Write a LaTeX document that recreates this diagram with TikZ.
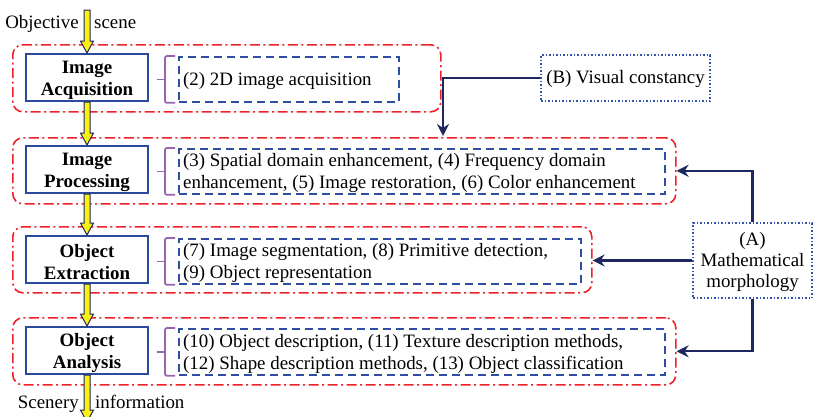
\documentclass[tikz,border=0pt]{standalone}
\usepackage{fontspec}
\setmainfont{Liberation Serif}
\usetikzlibrary{arrows.meta,calc}
\definecolor{rdash}{RGB}{238,32,40}
\definecolor{bbox}{RGB}{44,74,156}
\definecolor{bdash}{RGB}{46,78,162}
\definecolor{bdot}{RGB}{52,82,176}
\definecolor{navy}{RGB}{30,40,94}
\definecolor{purp}{RGB}{154,101,176}
\definecolor{yel}{RGB}{250,240,20}
\newcommand\yarr[2]{\draw[yarrowst] ($(#1)+(-3,0)$) -- ($(#2)+(-3,-12)$) -- ($(#2)+(-6.5,-12)$) -- (#2) -- ($(#2)+(6.5,-12)$) -- ($(#2)+(3,-12)$) -- ($(#1)+(3,0)$) -- cycle;}
\newcommand\brk[1]{\draw[bracest] ($(#1.north west)+(-3,0)$) -- ($(#1.north west)+(-13,0)$) -- ($(#1.south west)+(-13,0)$) -- ($(#1.south west)+(-3,0)$);
 \draw[bracest] ($(#1.west)+(-13,0)$) -- ($(#1.west)+(-21,0)$);}
\begin{document}
\begin{tikzpicture}[x=1pt,y=-1pt,
  every node/.style={font=\fontsize{18.9pt}{22pt}\selectfont},
  redbox/.style={draw=rdash, line width=1.6pt, rounded corners=10pt, dash pattern=on 10pt off 3.5pt on 2pt off 3.5pt, anchor=north west, inner sep=0pt},
  stagebox/.style={draw=bbox, line width=2pt, minimum width=122pt, minimum height=47pt, inner sep=0pt},
  stagetext/.style={align=center, inner sep=0pt, font=\fontsize{18.9pt}{22pt}\selectfont\bfseries},
  detbox/.style={draw=bdash, line width=1.8pt, dash pattern=on 8pt off 5pt, anchor=north west, inner sep=0pt},
  dettext/.style={anchor=west, align=left, inner sep=0pt},
  dotbox/.style={draw=bdot, line width=1.8pt, dash pattern=on 1.5pt off 2pt, align=center, inner sep=0pt},
  bracest/.style={draw=purp, line width=1.8pt, rounded corners=2pt},
  yarrowst/.style={draw=navy, line width=1pt, fill=yel, line join=miter},
  navarr/.style={draw=navy, line width=2.3pt, -{Stealth[length=12pt,width=12pt,inset=4pt]}},
  lbl/.style={inner sep=0pt}]
\useasboundingbox (0,0) rectangle (813,416);
% red groups
\node[redbox, minimum width=428pt, minimum height=67pt] (r1) at (12,44) {};
\node[redbox, minimum width=663pt, minimum height=66pt] (r2) at (12,137) {};
\node[redbox, minimum width=579pt, minimum height=66pt] (r3) at (12,226) {};
\node[redbox, minimum width=663pt, minimum height=67pt] (r4) at (12,317) {};
% stages
\node[stagebox] (p1) at (87,77.5) {};
\node[stagebox] (p2) at (87,169.5) {};
\node[stagebox] (p3) at (87,259.5) {};
\node[stagebox] (p4) at (87,350.5) {};
\node[stagetext] (s1) at ($(p1.center)+(0,2.5)$) {Image\\Acquisition};
\node[stagetext] (s2) at ($(p2.center)+(0,2.5)$) {Image\\Processing};
\node[stagetext] (s3) at ($(p3.center)+(0,2.5)$) {Object\\Extraction};
\node[stagetext] (s4) at ($(p4.center)+(0,2.5)$) {Object\\Analysis};
% details
\node[detbox, minimum width=220pt, minimum height=45pt] (d1) at (178,56) {};
\node[detbox, minimum width=486pt, minimum height=45pt] (d2) at (178,148) {};
\node[detbox, minimum width=402pt, minimum height=45pt] (d3) at (178,238) {};
\node[detbox, minimum width=486pt, minimum height=46pt] (d4) at (178,328) {};
\node[dettext] (t1) at ($(d1.west)+(5,1.5)$) {(2) 2D image acquisition};
\node[dettext] (t2) at ($(d2.west)+(5,2)$) {(3) Spatial domain enhancement, (4) Frequency domain\\enhancement, (5) Image restoration, (6) Color enhancement};
\node[dettext] (t3) at ($(d3.west)+(5,2)$) {(7) Image segmentation, (8) Primitive detection,\\(9) Object representation};
\node[dettext] (t4) at ($(d4.west)+(5,2)$) {(10) Object description, (11) Texture description methods,\\(12) Shape description methods, (13) Object classification};
\brk{d1}\brk{d2}\brk{d3}\brk{d4}
% side boxes
\node[dotbox, minimum width=169pt, minimum height=46pt] (B) at (625.5,78) {};
\node[lbl] (Bt) at ($(B.center)+(0,1)$) {(B) Visual constancy};
\node[dotbox, minimum width=119pt, minimum height=75pt] (A) at (752.5,260.5) {};
\node[lbl, align=center, font=\fontsize{18.9pt}{20.8pt}\selectfont] (At) at ($(A.center)+(0,1.5)$) {(A)\\Mathematical\\morphology};
% labels
\node[lbl, anchor=base east] (obj) at (79,28) {Objective};
\node[lbl, anchor=base west] (scn) at (94,28) {scene};
\node[lbl, anchor=base east] (scy) at (79,408) {Scenery};
\node[lbl, anchor=base west] (inf) at (95,408) {information};
% yellow flow
\coordinate (top) at (87,10);
\coordinate (bot) at (87,422);
\yarr{top}{p1.north}
\yarr{p1.south}{p2.north}
\yarr{p2.south}{p3.north}
\yarr{p3.south}{p4.north}
\yarr{p4.south}{bot}
% navy connectors
\coordinate (bt) at (443,136);
\draw[navarr] (B.west) -| (bt);
\draw[navarr] (A.north) |- (r2.east);
\draw[navarr] (A.west) -- (A.west -| r3.east);
\draw[navarr] (A.south) |- (r4.east);
\end{tikzpicture}
\end{document}
